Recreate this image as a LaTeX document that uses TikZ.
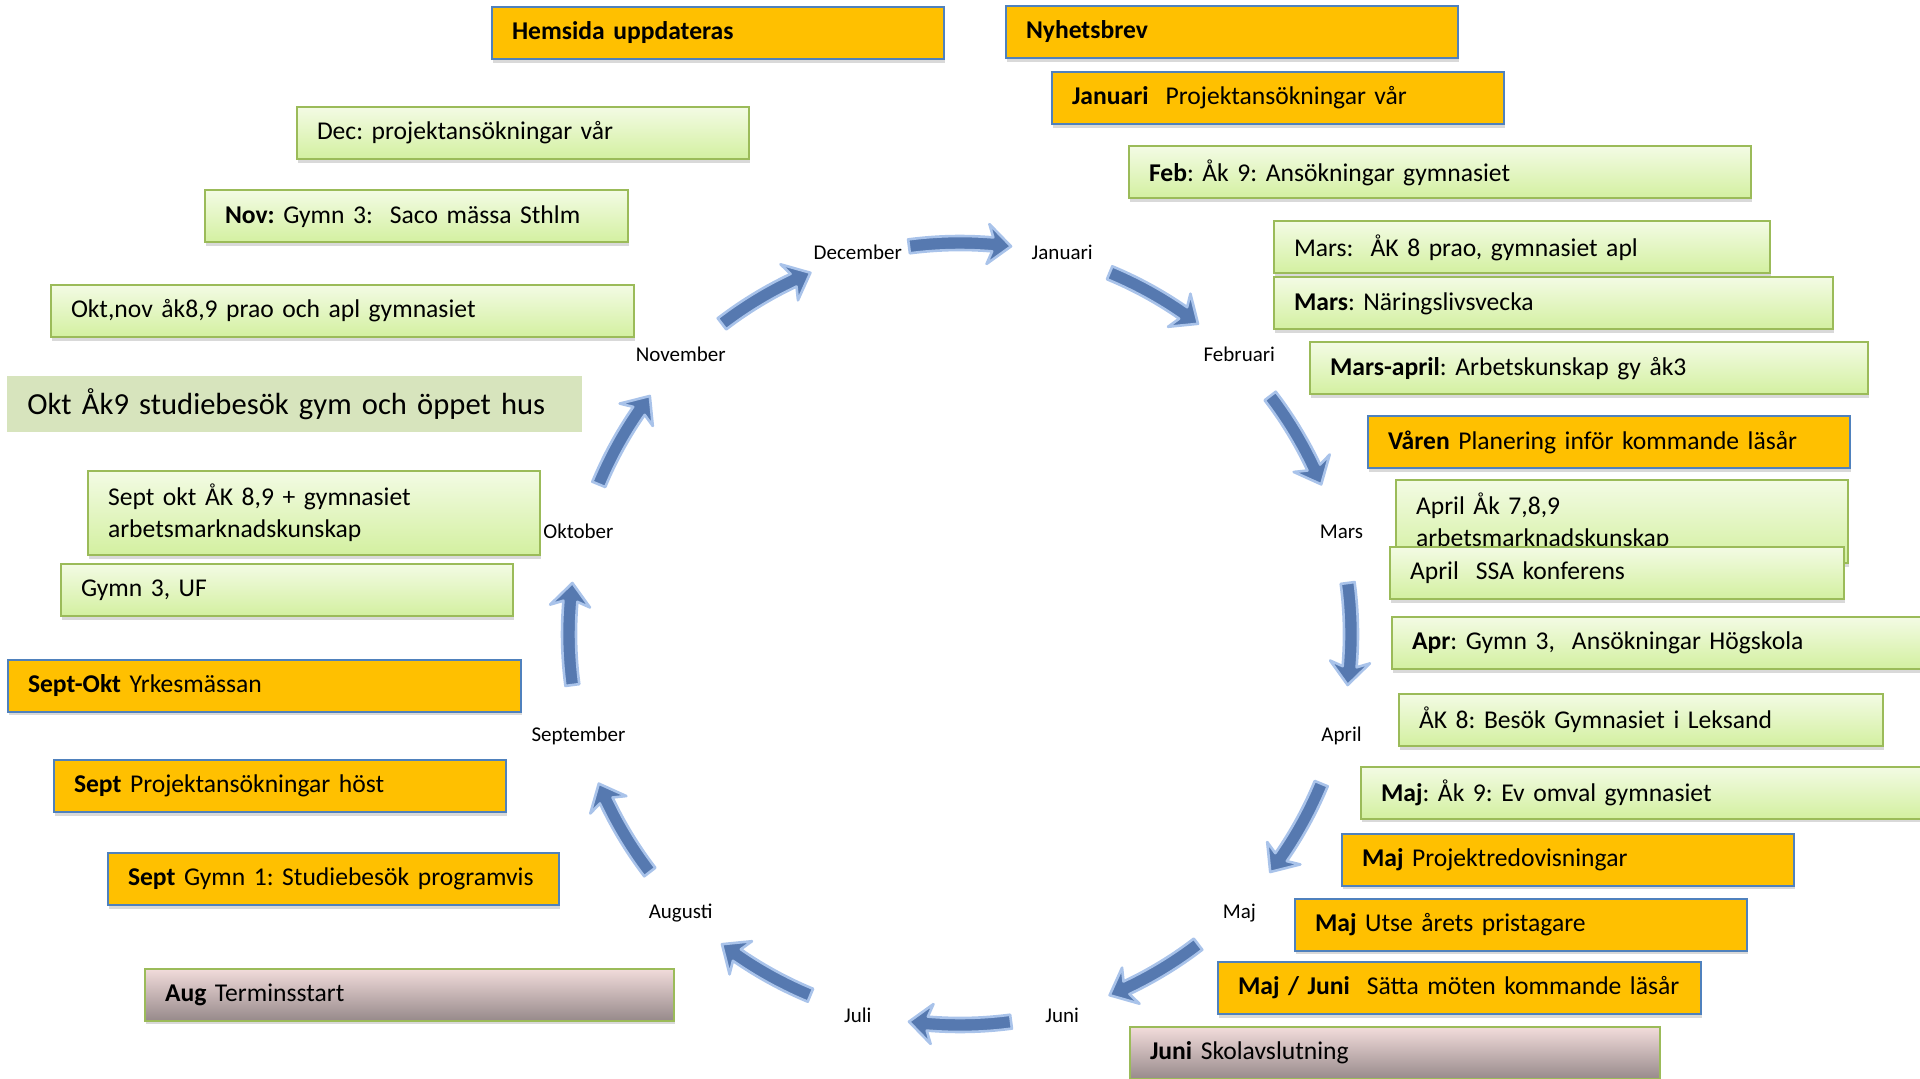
\documentclass[tikz,border=0pt]{standalone}
\usepackage{fontspec}
\setmainfont{Carlito}
\usetikzlibrary{shadows}
\definecolor{orangefill}{HTML}{FFC000}
\definecolor{blueedge}{HTML}{4F81BD}
\definecolor{greenedge}{HTML}{9BBB59}
\definecolor{greentop}{HTML}{F3FBE4}
\definecolor{greenbot}{HTML}{D3F0A0}
\definecolor{pinktop}{HTML}{F2DCDB}
\definecolor{pinkbot}{HTML}{978A8B}
\definecolor{olivefill}{HTML}{D7E4BD}
\definecolor{arrowblue}{HTML}{5679B0}
\definecolor{arrowedge}{HTML}{A9C3EA}
\frenchspacing

\begin{document}
\begin{tikzpicture}[x=0.5pt, y=-0.5pt,
				box/.style={anchor=west, align=left, inner xsep=10pt, minimum height=26pt,
					font=\fontsize{12.8}{16}\selectfont,
					drop shadow={shadow xshift=0.6pt, shadow yshift=-1.8pt, opacity=0.3}},
				orangebox/.style={box, draw=blueedge, line width=1pt, fill=orangefill},
				greenbox/.style={box, draw=greenedge, line width=1pt, top color=greentop, bottom color=greenbot},
				pinkbox/.style={box, draw=greenedge, line width=1pt, top color=pinktop, bottom color=pinkbot},
				month/.style={font=\fontsize{10.5}{12}\selectfont},
				blockarrow/.style={fill=arrowblue, draw=arrowedge, line width=1.3pt, line join=round}]
				\clip (0,0) rectangle (1920,1079);
				
				% left side
				\node[orangebox, text width=206pt](hemsida) at (491,33) {\textbf{Hemsida uppdateras}};
				\node[greenbox, text width=206pt](dec1) at (296,133) {Dec: projektansökningar vår};
				\node[greenbox, text width=191.5pt](nov1) at (204,216.5) {\textbf{Nov:} Gymn 3:\ \ Saco mässa Sthlm};
				\node[greenbox, text width=271.5pt](oktnov) at (50,311) {Okt,nov åk8,9 prao och apl gymnasiet};
				\node[anchor=west, fill=olivefill, inner xsep=10pt, minimum height=28pt, text width=267.5pt,
					font=\fontsize{15.3}{18}\selectfont](okt1) at (7,404) {Okt Åk9 studiebesök gym och öppet hus};
				\node[greenbox, text width=206pt, minimum height=42pt](septokt1) at (87,513) {Sept okt ÅK 8,9 + gymnasiet\\arbetsmarknadskunskap};
				\node[greenbox, text width=206pt](gymnuf) at (60,590) {Gymn 3, UF};
				\node[orangebox, text width=236.5pt](yrkes) at (7,685.5) {\textbf{Sept-Okt} Yrkesmässan};
				\node[orangebox, text width=206pt](sept1) at (53,786) {\textbf{Sept} Projektansökningar höst};
				\node[orangebox, text width=205.5pt](sept2) at (107,879) {\mbox{\textbf{Sept} Gymn 1: Studiebesök programvis}};
				\node[pinkbox, text width=244.5pt](aug1) at (144,994.5) {\textbf{Aug} Terminsstart};
				
				% right side
				\node[orangebox, text width=206pt](nyhet) at (1005,32) {\textbf{Nyhetsbrev}};
				\node[orangebox, text width=206pt](jan1) at (1051,98) {\textbf{Januari}\ \ Projektansökningar vår};
				\node[greenbox, text width=291pt](feb1) at (1128,172.5) {\textbf{Feb}: Åk 9: Ansökningar gymnasiet};
				\node[greenbox, text width=228pt](mars1) at (1273,247.5) {Mars:\ \ ÅK 8 prao, gymnasiet apl};
				\node[greenbox, text width=259.5pt](mars2) at (1273,303.5) {\textbf{Mars}: Näringslivsvecka};
				\node[greenbox, text width=259pt](mars3) at (1309,368.5) {\textbf{Mars-april}: Arbetskunskap gy åk3};
				\node[orangebox, text width=221pt](varen) at (1367,442) {\mbox{\textbf{Våren} Planering inför kommande läsår}};
				\node[greenbox, text width=206pt, minimum height=41.5pt](apr1) at (1395,521.5) {April Åk 7,8,9\\arbetsmarknadskunskap};
				\node[greenbox, text width=207pt](apr2) at (1389,573) {April\ \ SSA konferens};
				\node[greenbox, text width=270pt](apr3) at (1391,643) {\textbf{Apr}: Gymn 3,\ \ Ansökningar Högskola};
				\node[greenbox, text width=222pt](ak8) at (1398,720) {ÅK 8: Besök Gymnasiet i Leksand};
				\node[greenbox, text width=280pt](maj1) at (1360,792.5) {\textbf{Maj}: Åk 9: Ev omval gymnasiet};
				\node[orangebox, text width=206pt](maj2) at (1341,859.5) {\textbf{Maj} Projektredovisningar};
				\node[orangebox, text width=206pt](maj3) at (1294,924.5) {\textbf{Maj} Utse årets pristagare};
				\node[orangebox, text width=221.5pt](majjuni) at (1217,988) {\mbox{\textbf{Maj / Juni}\ \ Sätta möten kommande läsår}};
				\node[pinkbox, text width=245pt](juni1) at (1129,1053) {\textbf{Juni} Skolavslutning};
				
				% the year wheel
				\begin{scope}[shift={(960,634)}]
					\foreach \name/\txt [count=\i] in {jan/Januari, feb/Februari, mar/Mars, apr/April,
						maj/Maj, jun/Juni, jul/Juli, aug/Augusti, sep/September, okt/Oktober,
						nov/November, dec/December}
						\node[month](\name) at ({-105+30*\i}:395) {\txt};
					\foreach \a in {-97.5,-67.5,...,232.5}
						\filldraw[blockarrow] ({\a}:398) arc[start angle=\a, end angle=\a+12.3, radius=398]
							-- ({\a+11.6}:411) -- ({\a+15}:391) -- ({\a+11.6}:371)
							-- ({\a+12.3}:384) arc[start angle=\a+12.3, end angle=\a, radius=384] -- cycle;
				\end{scope}
			\end{tikzpicture}
\end{document}
